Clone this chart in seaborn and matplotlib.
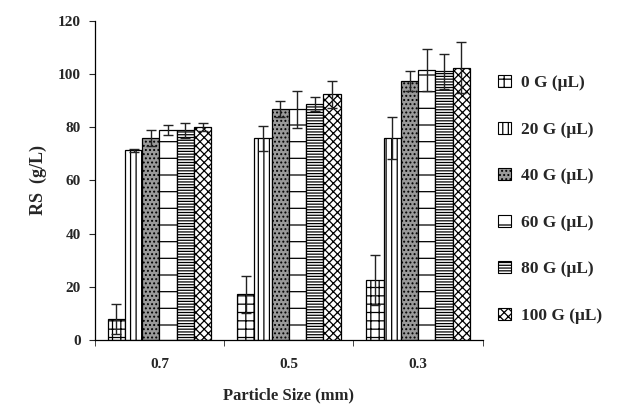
import pandas as pd
import numpy as np
import matplotlib
matplotlib.use('Agg')
import matplotlib.pyplot as plt
import seaborn as sns
from matplotlib.patches import Patch

sizes = ['0.7', '0.5', '0.3']
doses = ['0 G (μL)', '20 G (μL)', '40 G (μL)', '60 G (μL)', '80 G (μL)', '100 G (μL)']
rs_07 = [7.8, 71.3, 75.8, 79.0, 78.8, 80.2]
rs_05 = [17.2, 75.8, 87.0, 86.7, 88.8, 92.3]
rs_03 = [22.5, 76.0, 97.5, 101.5, 101.0, 102.4]
err_07 = [5.7, 0.5, 3.0, 1.8, 2.8, 1.5]
err_05 = [7.0, 4.8, 3.0, 7.0, 2.7, 5.0]
err_03 = [9.5, 8.0, 3.8, 8.0, 6.5, 9.6]

rows = []
for s, vals, errs in zip(sizes, [rs_07, rs_05, rs_03], [err_07, err_05, err_03]):
    for d, v, e in zip(doses, vals, errs):
        rows.append({'size': s, 'dose': d, 'rs': v, 'err': e})
df = pd.DataFrame(rows)

sns.set_style('white')
plt.rcParams['font.family'] = ['Liberation Serif', 'DejaVu Serif']
plt.rcParams['font.weight'] = 'bold'
plt.rcParams['hatch.linewidth'] = 0.9

hatches = ['++', '|||', '....', '-', '------', 'xxxx']
faces = ['white', 'white', '#9a9a9a', 'white', 'white', 'white']

fig = plt.figure(figsize=(6.19, 4.09), dpi=100)
ax = fig.add_axes([0.153, 0.169, 0.627, 0.78])
sns.barplot(data=df, x='size', y='rs', hue='dose', order=sizes, hue_order=doses,
            errorbar=None, width=0.8, ax=ax, edgecolor='black', linewidth=0.9,
            palette=['white'] * 6, legend=False)

# bars come grouped per hue level
for i, d in enumerate(doses):
    cont = ax.containers[i]
    sub = df[df['dose'] == d].set_index('size').loc[sizes]
    xs = []
    for bar in cont:
        bar.set_facecolor(faces[i])
        bar.set_hatch(hatches[i])
        xs.append(bar.get_x() + bar.get_width() / 2)
    ax.errorbar(xs, sub['rs'], yerr=sub['err'], fmt='none', ecolor='#222222',
                elinewidth=1, capsize=3.5, capthick=1)

ax.set_ylim(0, 120)
ax.set_xlim(-0.5, 2.5)
ax.set_yticks(range(0, 121, 20))
ax.set_xticks([-0.5, 0.5, 1.5, 2.5], minor=True)
ax.tick_params(axis='x', which='major', length=0, labelsize=11, pad=13)
ax.tick_params(axis='x', which='minor', length=4, direction='out', bottom=True)
ax.tick_params(axis='y', length=4, direction='out', left=True, labelsize=11, pad=6)
for lab in ax.get_xticklabels() + ax.get_yticklabels():
    lab.set_fontweight('bold')
sns.despine(ax=ax)
for sp in ['left', 'bottom']:
    ax.spines[sp].set_color('black')
    ax.spines[sp].set_linewidth(0.9)

ax.set_xlabel('Particle Size (mm)', fontsize=12, fontweight='bold', labelpad=12)
ax.set_ylabel('RS  (g/L)', fontsize=13, fontweight='bold', labelpad=8)

handles = [Patch(facecolor=faces[i], edgecolor='black', hatch=hatches[i], linewidth=0.8)
           for i in range(len(doses))]
ax.legend(handles, doses, loc='center left', bbox_to_anchor=(1.0, 0.44), frameon=False,
          handlelength=0.7, handleheight=0.7, labelspacing=1.75, handletextpad=0.6,
          prop={'family': 'Liberation Serif', 'weight': 'bold', 'size': 12.5})

fig.savefig('out.png', dpi=100)
